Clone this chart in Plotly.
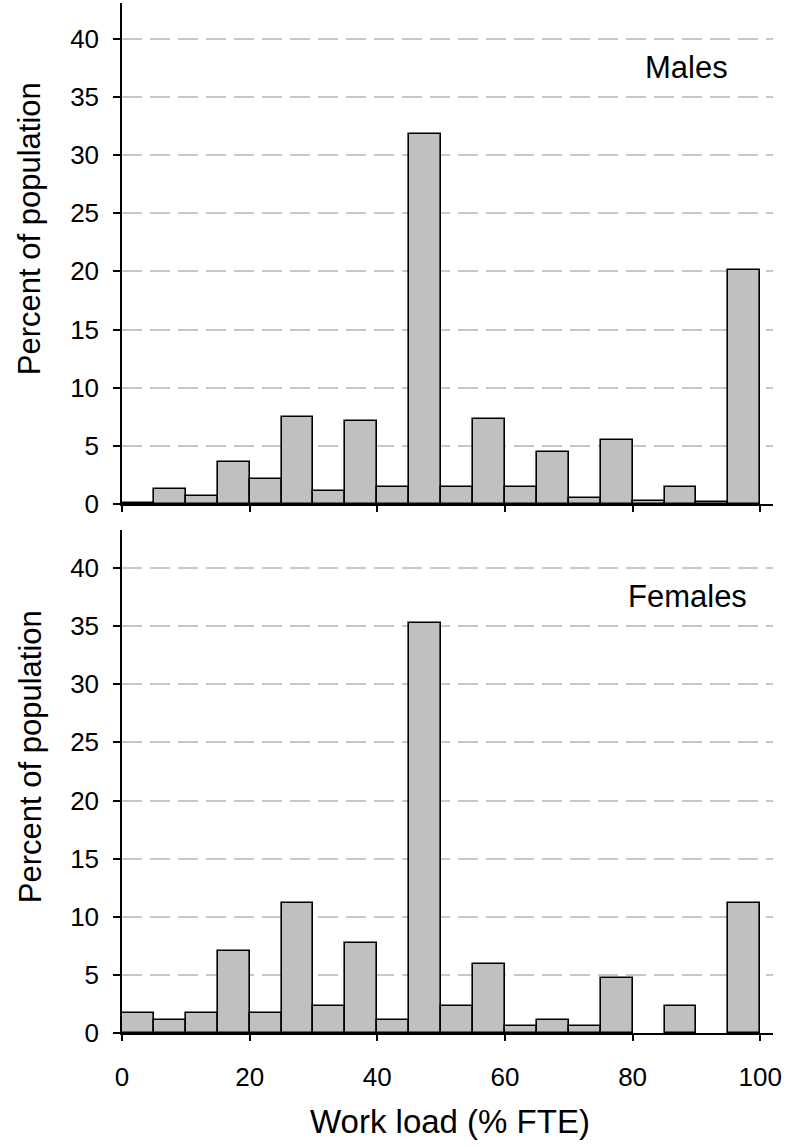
import plotly.graph_objects as go
from plotly.subplots import make_subplots

# bin left edges (% FTE), bins 5 wide
bin_starts = [0, 5, 10, 15, 20, 25, 30, 35, 40, 45, 50, 55, 60, 65, 70, 75, 80, 85, 90, 95]
bin_width = 5

males = [0.1, 1.3, 0.7, 3.65, 2.15, 7.5, 1.15, 7.15, 1.5, 31.8,
         1.5, 7.35, 1.5, 4.5, 0.5, 5.5, 0.3, 1.5, 0.15, 20.15]
females = [1.75, 1.15, 1.75, 7.05, 1.75, 11.2, 2.35, 7.7, 1.15, 35.3,
           2.35, 5.9, 0.6, 1.15, 0.6, 4.7, None, 2.35, None, 11.2]

x_ticks = [0, 20, 40, 60, 80, 100]
y_ticks = [0, 5, 10, 15, 20, 25, 30, 35, 40]

bin_centers = [b + bin_width / 2 for b in bin_starts]

FONT = "Liberation Sans, Arial, sans-serif"

fig = make_subplots(rows=2, cols=1, shared_xaxes=False, vertical_spacing=0.0)

for row, vals in [(1, males), (2, females)]:
    fig.add_trace(go.Bar(
        x=bin_centers, y=vals, width=bin_width,
        marker=dict(color="#C0C0C0", line=dict(color="black", width=1.6)),
        showlegend=False, hoverinfo="x+y"),
        row=row, col=1)

top_dom = [(1033 - 504) / 1030, 1.0]
bot_dom = [0.0, (1033 - 530) / 1030]

common_x = dict(range=[0, 102], tickvals=x_ticks, showline=True, linecolor="black",
                linewidth=1.5, ticks="outside", ticklen=6, tickwidth=1.5, tickcolor="black",
                showgrid=False, zeroline=False, fixedrange=True)
common_y = dict(tickvals=y_ticks, showline=True, linecolor="black", linewidth=1.5,
                ticks="outside", ticklen=7, tickwidth=1.5, tickcolor="black",
                showgrid=True, gridcolor="#C8C8C8", gridwidth=1.5, griddash="20px,8px",
                zeroline=False, tickfont=dict(size=26, color="black", family=FONT),
                ticklabelstandoff=9)

fig.update_layout(
    width=789, height=1147,
    margin=dict(l=122, r=16, t=3, b=114),
    paper_bgcolor="white", plot_bgcolor="white",
    bargap=0,
    font=dict(family=FONT, color="black"),
    xaxis=dict(**common_x, domain=[0, 1], showticklabels=False, anchor="y"),
    xaxis2=dict(**common_x, domain=[0, 1], showticklabels=True, anchor="y2",
                tickfont=dict(size=26, color="black", family=FONT), ticklabelstandoff=14),
    yaxis=dict(**common_y, range=[0, 43.07], domain=top_dom, anchor="x"),
    yaxis2=dict(**common_y, range=[0, 43.27], domain=bot_dom, anchor="x2"),
)

ann_font = dict(size=31, color="black", family=FONT)
fig.add_annotation(text="Percent of population", xref="paper", yref="paper",
                   x=-0.141, y=(1033 - 229) / 1030, textangle=-90,
                   showarrow=False, xanchor="center", yanchor="middle", font=ann_font)
fig.add_annotation(text="Percent of population", xref="paper", yref="paper",
                   x=-0.141, y=(1033 - 757) / 1030, textangle=-90,
                   showarrow=False, xanchor="center", yanchor="middle", font=ann_font)
fig.add_annotation(text="Work load (% FTE)", xref="paper", yref="paper",
                   x=(450 - 122) / 651, y=(1033 - 1121) / 1030,
                   showarrow=False, xanchor="center", yanchor="middle",
                   font=dict(size=33, color="black", family=FONT))
fig.add_annotation(text="Males", xref="paper", yref="paper",
                   x=(686 - 122) / 651, y=(1033 - 68) / 1030,
                   showarrow=False, xanchor="center", yanchor="middle", font=ann_font)
fig.add_annotation(text="Females", xref="paper", yref="paper",
                   x=(687 - 122) / 651, y=(1033 - 596) / 1030,
                   showarrow=False, xanchor="center", yanchor="middle", font=ann_font)

fig.write_html("out.html", config={"displayModeBar": False},
               post_script="document.body.style.margin='0px';document.body.style.overflow='hidden';")
